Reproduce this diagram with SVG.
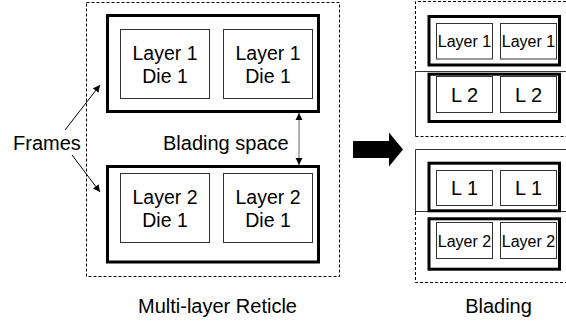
<svg xmlns="http://www.w3.org/2000/svg" width="566" height="323" viewBox="0 0 566 323">
  <style>
    text { font-family: "Liberation Sans", Arial, sans-serif; fill: #000; }
    .label { font-size: 20px; }
    .die-text { font-size: 19.5px; text-anchor: middle; }
    .die-small { font-size: 16px; text-anchor: middle; }
    .die-short { font-size: 20px; text-anchor: middle; }
    .frame { fill: none; stroke: #000; stroke-width: 3; }
    .die { fill: #fff; stroke: #333; stroke-width: 1; }
    .dashed { fill: none; stroke: #000; stroke-width: 1; stroke-dasharray: 3 2; }
    .blade { fill: none; stroke: #333; stroke-width: 1; }
    .pointer { fill: none; stroke: #000; stroke-width: 1; }
    .gap { fill: none; stroke: #666; stroke-width: 1; }
  </style>
  <defs>
    <marker id="head" markerWidth="8" markerHeight="8" refX="7" refY="4" orient="auto" markerUnits="userSpaceOnUse">
      <path d="M0,0.5 L7,4 L0,7.5 Z" fill="#000"/>
    </marker>
    <marker id="tail" markerWidth="8" markerHeight="8" refX="1" refY="4" orient="auto" markerUnits="userSpaceOnUse">
      <path d="M8,0.5 L1,4 L8,7.5 Z" fill="#000"/>
    </marker>
  </defs>

  <!-- Multi-layer reticle (left) -->
  <g id="reticle">
    <rect class="dashed" x="86.5" y="2.5" width="253" height="274"/>
  </g>

  <g id="frame-layer1">
    <rect class="frame" x="107.5" y="15.5" width="211" height="96"/>
    <g id="die-l1-a">
      <rect class="die" x="120.5" y="29.5" width="89" height="69"/>
      <text class="die-text" x="165" y="60">Layer 1</text>
      <text class="die-text" x="165" y="83">Die 1</text>
    </g>
    <g id="die-l1-b">
      <rect class="die" x="223.5" y="29.5" width="89" height="69"/>
      <text class="die-text" x="268" y="60">Layer 1</text>
      <text class="die-text" x="268" y="83">Die 1</text>
    </g>
  </g>

  <g id="frame-layer2">
    <rect class="frame" x="107.5" y="166.5" width="211" height="95.5"/>
    <g id="die-l2-a">
      <rect class="die" x="120.5" y="173.5" width="89" height="69"/>
      <text class="die-text" x="165" y="204">Layer 2</text>
      <text class="die-text" x="165" y="227">Die 1</text>
    </g>
    <g id="die-l2-b">
      <rect class="die" x="223.5" y="173.5" width="89" height="69"/>
      <text class="die-text" x="268" y="204">Layer 2</text>
      <text class="die-text" x="268" y="227">Die 1</text>
    </g>
  </g>

  <g id="labels">
    <text class="label" x="13" y="150">Frames</text>
    <text class="label" x="163" y="150">Blading space</text>
    <text class="label" x="217.5" y="313" text-anchor="middle">Multi-layer Reticle</text>
    <text class="label" x="498.5" y="313" text-anchor="middle">Blading</text>
  </g>

  <!-- Connectors -->
  <g id="connectors">
    <line class="pointer" x1="65" y1="130" x2="100" y2="85" marker-end="url(#head)"/>
    <line class="pointer" x1="72" y1="155" x2="100" y2="192" marker-end="url(#head)"/>
    <line class="gap" x1="299" y1="113" x2="299" y2="165" marker-start="url(#tail)" marker-end="url(#head)"/>
    <polygon id="big-arrow" points="353,141 389,141 389,132.5 403,149.5 389,166.5 389,158 353,158" fill="#000"/>
  </g>

  <!-- Blading exposures (right) -->
  <g id="exposure-1">
    <path class="dashed" d="M566,1.5 H415.5 V72"/>
    <path class="dashed" d="M415.5,136.5 H566"/>
    <path class="blade" d="M415.5,72 V136.5 M415.5,71.5 H566"/>
    <rect class="frame" x="429" y="16.5" width="130.5" height="48.5"/>
    <rect class="die" x="436.5" y="23.5" width="56" height="35.5"/>
    <rect class="die" x="500.5" y="23.5" width="56" height="35.5"/>
    <text class="die-small" x="464.5" y="46.7">Layer 1</text>
    <text class="die-small" x="528.5" y="46.7">Layer 1</text>
    <rect class="frame" x="429" y="74.2" width="130.5" height="47.3"/>
    <rect class="die" x="436.5" y="76.5" width="56" height="36"/>
    <rect class="die" x="500.5" y="76.5" width="56" height="36"/>
    <text class="die-short" x="464.5" y="101.7">L 2</text>
    <text class="die-short" x="528.5" y="101.7">L 2</text>
  </g>

  <g id="exposure-2">
    <path class="blade" d="M566,149.5 H415.5 V212 M415.5,211.5 H566"/>
    <path class="dashed" d="M415.5,212 V282.5 H566"/>
    <rect class="frame" x="429" y="163.2" width="130.5" height="47.6"/>
    <rect class="die" x="436.5" y="170.5" width="56" height="35"/>
    <rect class="die" x="500.5" y="170.5" width="56" height="35"/>
    <text class="die-short" x="464.5" y="194.5">L 1</text>
    <text class="die-short" x="528.5" y="194.5">L 1</text>
    <rect class="frame" x="429" y="218.8" width="130.5" height="50.4"/>
    <rect class="die" x="436.5" y="222.5" width="56" height="36"/>
    <rect class="die" x="500.5" y="222.5" width="56" height="36"/>
    <text class="die-small" x="464.5" y="246.5">Layer 2</text>
    <text class="die-small" x="528.5" y="246.5">Layer 2</text>
  </g>
</svg>
